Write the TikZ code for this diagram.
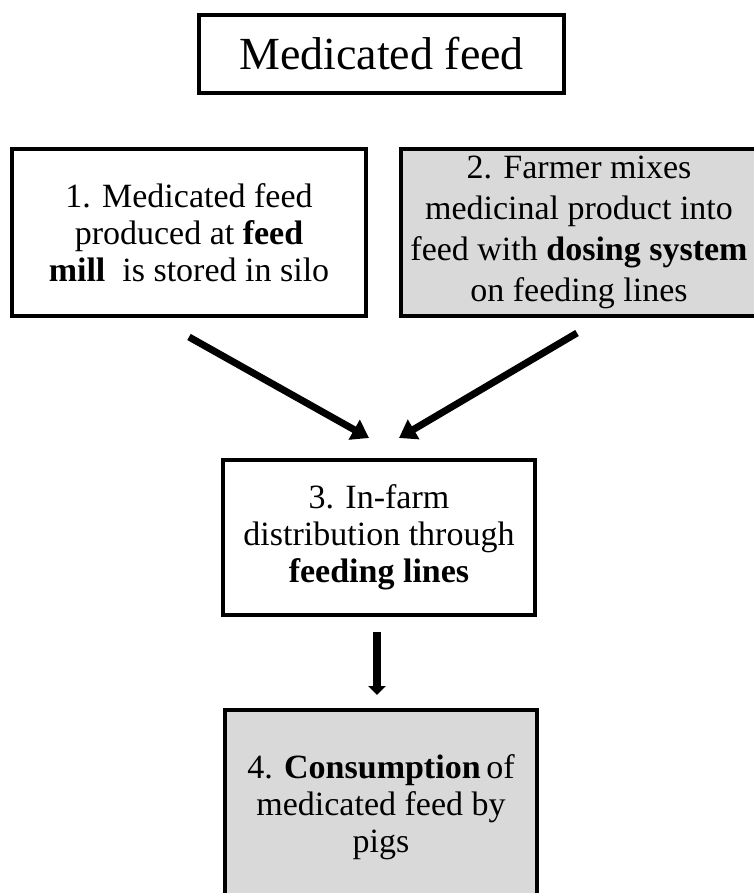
\documentclass[tikz,border=0pt]{standalone}
\usepackage{fontspec}
\setmainfont{Liberation Serif}
\usetikzlibrary{arrows.meta}
\definecolor{stepgray}{HTML}{D9D9D9}

\begin{document}
\begin{tikzpicture}[x=1pt, y=-1pt,
    box/.style={draw, line width=4pt, inner sep=0pt, align=center,
                font=\fontsize{34}{37}\selectfont},
    slant/.style={line width=7pt, -{Triangle[width=22pt,length=17pt]}},
    down/.style={line width=8pt, -{Triangle[width=17pt,length=9pt]}}]
  \useasboundingbox (0,0) rectangle (753,893);
  \node[box, minimum width=365pt, minimum height=78pt,
        font=\fontsize{46}{50}\selectfont] (title) at (381.5,54) {Medicated feed};
  \node[box, minimum width=354pt, minimum height=167pt] (mill) at (189,232.5)
       {1. Medicated feed\\ produced at \textbf{feed}\\ \textbf{mill}\ \ is stored in silo};
  \node[box, fill=stepgray, minimum width=356pt, minimum height=167pt,
        font=\fontsize{34}{41}\selectfont] (dosing) at (579,232.5)
       {2. Farmer mixes\\ medicinal product into\\ feed with \textbf{dosing system}\\ on feeding lines};
  \node[box, minimum width=312pt, minimum height=155pt] (dist) at (379,537.5)
       {3. In-farm\\ distribution through\\ \textbf{feeding lines}};
  \node[box, fill=stepgray, minimum width=312pt, minimum height=194pt] (cons) at (381,807)
       {4. \textbf{Consumption}\,of\\ medicated feed by\\ pigs};
  \draw[slant] ([yshift=-19pt]mill.south) -- ([xshift=-10pt,yshift=20pt]dist.north);
  \draw[slant] ([xshift=-2pt,yshift=-15pt]dosing.south) -- ([xshift=20pt,yshift=20pt]dist.north);
  \draw[down] ([xshift=-2pt,yshift=-15pt]dist.south) -- ([xshift=-4pt,yshift=13pt]cons.north);
\end{tikzpicture}
\end{document}
